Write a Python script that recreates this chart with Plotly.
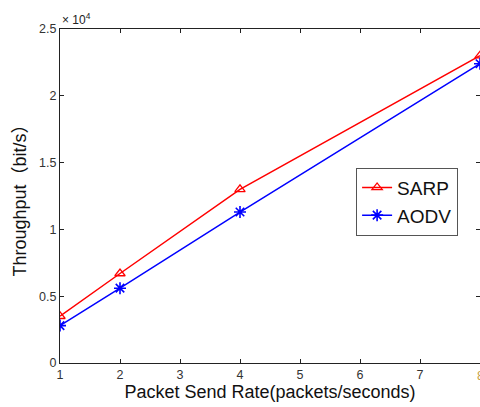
import plotly.graph_objects as go

x_vals = [1, 2, 4, 8]
sarp = [3500, 6700, 13000, 23000]
aodv = [2800, 5600, 11300, 22400]
y_tickvals = [0, 5000, 10000, 15000, 20000, 25000]
y_ticktext = ["0", "0.5", "1", "1.5", "2", "2.5"]
x_tickvals = [1, 2, 3, 4, 5, 6, 7, 8]

fig = go.Figure()
fig.add_trace(go.Scatter(x=x_vals, y=sarp, mode="lines+markers", name="SARP",
                         line=dict(color="#ff0000", width=1.5),
                         marker=dict(symbol="triangle-up-open", size=9, color="#ff0000",
                                     line=dict(width=1.3, color="#ff0000"))))
fig.add_trace(go.Scatter(x=x_vals, y=aodv, mode="lines+markers", name="AODV",
                         line=dict(color="#0000ff", width=1.5),
                         marker=dict(symbol="asterisk-open", size=10, color="#0000ff",
                                     line=dict(width=1.6, color="#0000ff"))))

axis_common = dict(showgrid=False, zeroline=False, showline=True, linecolor="#222222",
                   linewidth=1, mirror="ticks", ticks="inside", ticklen=4,
                   tickcolor="#222222", tickfont=dict(family="Liberation Sans", size=12.5, color="#333333"))

fig.update_layout(
    width=480, height=407,
    margin=dict(l=60, r=0, t=29, b=44),
    paper_bgcolor="white", plot_bgcolor="white",
    xaxis=dict(range=[1, 8], tickvals=x_tickvals,
               title=dict(text="Packet Send Rate(packets/seconds)", standoff=4,
                          font=dict(family="Liberation Sans", size=18, color="#111111")),
               **axis_common),
    yaxis=dict(range=[0, 25000], tickvals=y_tickvals, ticktext=y_ticktext,
               title=dict(text="Throughput（bit/s）", standoff=7,
                          font=dict(family="Liberation Sans, Noto Sans CJK SC", size=18, color="#111111")),
               **axis_common),
    legend=dict(x=0.705, y=0.585, xanchor="left", yanchor="top",
                bgcolor="white", bordercolor="#555555", borderwidth=1,
                font=dict(family="Liberation Sans", size=19, color="#111111"),
                tracegroupgap=0),
    showlegend=True,
)
fig.add_annotation(text="× 10<sup>4</sup>", xref="paper", yref="paper", x=0, y=1,
                   xanchor="left", yanchor="bottom", showarrow=False, yshift=0,
                   font=dict(family="Liberation Sans", size=12, color="#222222"))
fig.add_annotation(text="8", xref="x", yref="paper", x=8, y=0, yshift=-4,
                   xanchor="center", yanchor="top", showarrow=False,
                   font=dict(family="Liberation Sans", size=12.5, color="#c8a040"))

fig.write_html("out.html")
